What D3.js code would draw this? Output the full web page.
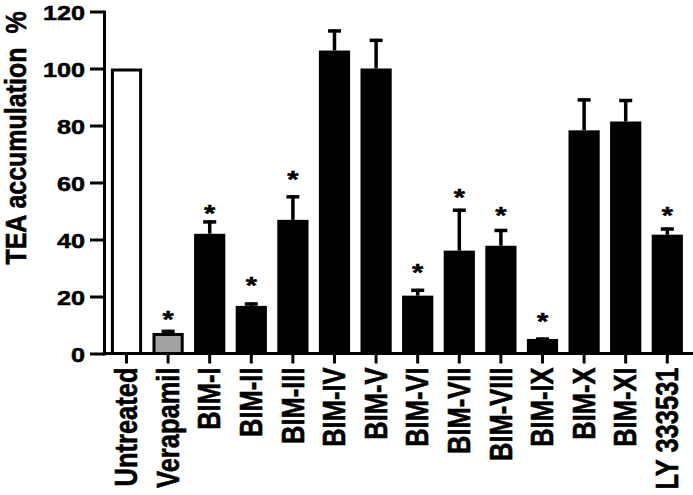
<!DOCTYPE html>
<html>
<head>
<meta charset="utf-8">
<script src="https://cdn.jsdelivr.net/npm/d3@7"></script>
<style>
  body { margin: 0; background: #fff; }
  svg text { font-family: "Liberation Sans", Arial, sans-serif; font-weight: bold; fill: #000; stroke: #000; stroke-width: 0.5px; }
</style>
</head>
<body>
<div class="app"></div>
<script>
'use strict'

// categories on the x axis
var categories = ["Untreated", "Verapamil", "BIM-I", "BIM-II", "BIM-III", "BIM-IV", "BIM-V",
  "BIM-VI", "BIM-VII", "BIM-VIII", "BIM-IX", "BIM-X", "BIM-XI", "LY 333531"];

// mean TEA accumulation (%)
var means = [100, 7.2, 42.0, 16.7, 46.9, 106.3, 100.0, 20.3, 36.1, 37.8, 5.1, 78.3, 81.4, 41.7];

// error (upper bar only)
var errors = [0, 1.1, 4.7, 1.2, 8.6, 7.4, 10.4, 2.4, 14.7, 5.9, 0.5, 11.2, 7.9, 2.5];

// level of the significance star (null = no star)
var stars = [null, 13.9, 51.1, 25.8, 62.7, null, null, 30.4, 56.4, 50.4, 13.2, null, null, 50.4];

// y ticks
var yTicks = [0, 20, 40, 60, 80, 100, 120];

var yTitle = "TEA accumulation  %";

var W = 693, H = 495;
var axisX = 104;     // position of y axis
var stretch = 1.2;   // the source picture is stretched horizontally

var data = categories.map(function(c, i) {
  return { name: c, mean: means[i], err: errors[i], star: stars[i] };
});

function fillFor(name) {
  if (name === "Untreated") return "#fff";
  if (name === "Verapamil") return "#a3a3a3";
  return "#000";
}

var x = d3.scaleBand()
  .domain(categories)
  .range([100.5, 693.3])
  .paddingInner(0.25)
  .paddingOuter(0.25);

var y = d3.scaleLinear()
  .domain([0, 120])
  .range([353.5, 11.5]);

var svg = d3.select(".app")
  .append("svg")
  .attr("width", W)
  .attr("height", H)
  .style("display", "block");

svg.append("rect").attr("width", W).attr("height", H).attr("fill", "#fff");

// bars
var sw = 3;
svg.append("g")
  .selectAll("rect")
  .data(data)
  .enter().append("rect")
  .attr("x", function(d) { return x(d.name) + sw / 2; })
  .attr("y", function(d) { return y(d.mean) + sw / 2; })
  .attr("width", x.bandwidth() - sw)
  .attr("height", function(d) { return y(0) - y(d.mean) - sw / 2; })
  .attr("fill", function(d) { return fillFor(d.name); })
  .attr("stroke", "#000")
  .attr("stroke-width", sw);

// error bars
var errG = svg.append("g")
  .selectAll("g")
  .data(data.filter(function(d) { return d.err > 0; }))
  .enter().append("g")
  .attr("stroke", "#000")
  .attr("stroke-width", 3.5);

errG.append("line")
  .attr("x1", function(d) { return x(d.name) + x.bandwidth() / 2; })
  .attr("x2", function(d) { return x(d.name) + x.bandwidth() / 2; })
  .attr("y1", function(d) { return y(d.mean); })
  .attr("y2", function(d) { return y(d.mean + d.err); });

errG.append("line")
  .attr("x1", function(d) { return x(d.name) + x.bandwidth() / 2 - 6.5; })
  .attr("x2", function(d) { return x(d.name) + x.bandwidth() / 2 + 6.5; })
  .attr("y1", function(d) { return y(d.mean + d.err) + 1.5; })
  .attr("y2", function(d) { return y(d.mean + d.err) + 1.5; });

// stars
var starSize = 24;
svg.append("g")
  .selectAll("text")
  .data(data.filter(function(d) { return d.star !== null; }))
  .enter().append("text")
  .attr("text-anchor", "middle")
  .attr("font-size", starSize)
  .attr("transform", function(d) {
    return "translate(" + (x(d.name) + x.bandwidth() / 2) + "," + (y(d.star) + starSize * 0.57) + ") scale(" + stretch + ",1)";
  })
  .text("*");

// y axis
var yAxis = d3.axisLeft(y).tickValues(yTicks).tickSize(14).tickSizeOuter(0);
var gy = svg.append("g")
  .attr("transform", "translate(" + axisX + ",0)")
  .call(yAxis);

gy.selectAll("path, line").attr("stroke", "#000").attr("stroke-width", 3);
gy.select(".domain").attr("stroke-linecap", "square");
gy.selectAll("text")
  .attr("x", null)
  .attr("dy", "0.36em")
  .attr("font-size", 21)
  .attr("transform", "translate(-19,0) scale(" + stretch + ",1)");

// x axis
var xAxis = d3.axisBottom(x).tickSize(10).tickSizeOuter(0);
var gx = svg.append("g")
  .attr("transform", "translate(0," + y(0) + ")")
  .call(xAxis);

gx.select(".domain").attr("d", "M" + axisX + ",0H" + W);
gx.selectAll("path, line").attr("stroke", "#000").attr("stroke-width", 3);
gx.selectAll("text")
  .attr("y", null)
  .attr("dy", "0.35em")
  .attr("font-size", 25.5)
  .attr("text-anchor", "end")
  .attr("transform", "translate(0,14) scale(" + stretch + ",1) rotate(-90)");

// y title
svg.append("text")
  .attr("font-size", 25)
  .attr("text-anchor", "middle")
  .style("white-space", "pre")
  .attr("transform", "translate(26,138) scale(" + stretch + ",1) rotate(-90)")
  .text(yTitle);
</script>
</body>
</html>
